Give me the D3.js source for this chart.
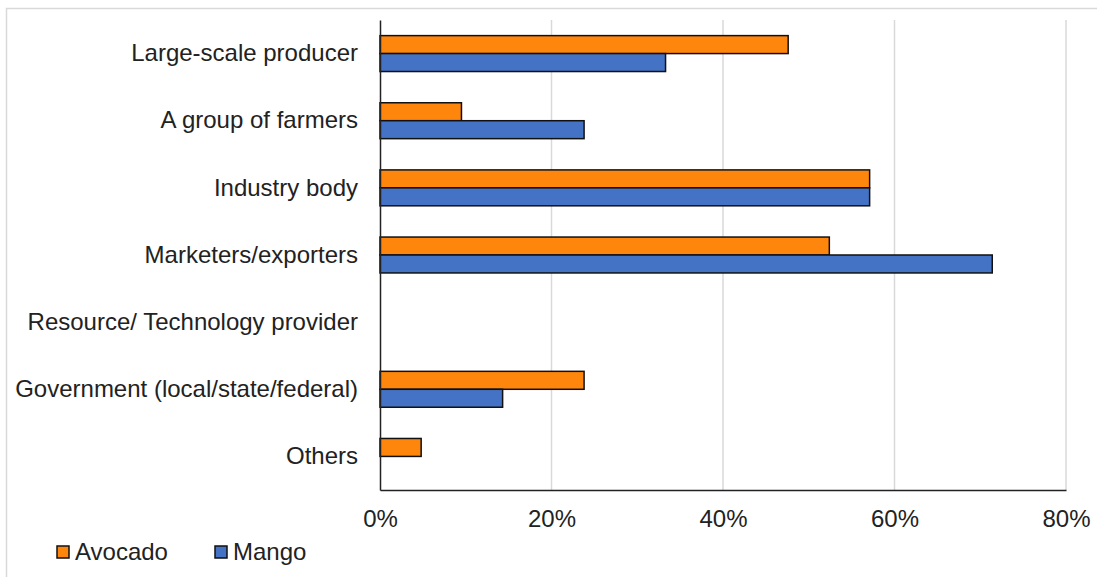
<!DOCTYPE html>
<html>
<head>
<meta charset="utf-8">
<script src="https://cdn.jsdelivr.net/npm/d3@7"></script>
<style>
    body { margin: 0; background: #fff; }
    svg { display: block; font-family: "Liberation Sans", Arial, sans-serif; }
</style>
</head>
<body>
<div id="chart"></div>
<script>
// Data
const categories = [
    'Large-scale producer',
    'A group of farmers',
    'Industry body',
    'Marketers/exporters',
    'Resource/ Technology provider',
    'Government (local/state/federal)',
    'Others'
];
const seriesNames = ['Avocado', 'Mango'];
const avocado = [47.6, 9.5, 57.1, 52.4, 0, 23.8, 4.8];
const mango = [33.3, 23.8, 57.1, 71.4, 0, 14.3, 0];
const xTicks = [0, 20, 40, 60, 80];
const colors = ['#ff860d', '#4472c4'];

const width = 1097;
const height = 577;
const margin = { top: 20, right: 31, bottom: 87, left: 380 };
const fontSize = 24;

const svg = d3.select('#chart').append('svg')
    .attr('width', width)
    .attr('height', height);

// outer chart frame (partly off-canvas like the reference)
svg.append('rect')
    .attr('x', 6.5).attr('y', 8.5)
    .attr('width', width + 20).attr('height', height + 20)
    .attr('fill', 'none')
    .attr('stroke', '#d9d9d9')
    .attr('stroke-width', 1.5);

const x = d3.scaleLinear()
    .domain([0, 80])
    .range([margin.left, width - margin.right]);

const y = d3.scaleBand()
    .domain(categories)
    .range([margin.top, height - margin.bottom]);

const ySub = d3.scaleBand()
    .domain(seriesNames)
    .range([0, y.bandwidth()])
    .paddingOuter(0.87);

// gridlines
svg.append('g')
    .selectAll('line')
    .data(xTicks.slice(1))
    .join('line')
    .attr('x1', d => x(d)).attr('x2', d => x(d))
    .attr('y1', margin.top).attr('y2', height - margin.bottom)
    .attr('stroke', '#d9d9d9')
    .attr('stroke-width', 1.5);

// bars
const rows = categories.map((c, i) => ({ cat: c, values: [avocado[i], mango[i]] }));

const groups = svg.append('g')
    .selectAll('g')
    .data(rows)
    .join('g')
    .attr('transform', d => `translate(0,${y(d.cat)})`);

groups.selectAll('rect')
    .data(d => d.values.map((v, j) => ({ name: seriesNames[j], v, j })).filter(e => e.v > 0))
    .join('rect')
    .attr('x', x(0))
    .attr('y', d => ySub(d.name))
    .attr('width', d => x(d.v) - x(0))
    .attr('height', ySub.bandwidth())
    .attr('fill', d => colors[d.j])
    .attr('stroke', '#111')
    .attr('stroke-width', 1.5);

// axes
const xAxis = svg.append('g')
    .attr('transform', `translate(0,${height - margin.bottom})`)
    .call(d3.axisBottom(x).tickValues(xTicks).tickSize(0).tickPadding(20)
        .tickFormat(d => d + '%'));
xAxis.select('.domain').attr('stroke', '#222').attr('stroke-width', 1.5);
xAxis.selectAll('text').attr('font-size', fontSize).attr('fill', '#222')
    .attr('font-family', '"Liberation Sans", Arial, sans-serif');

const yAxis = svg.append('g')
    .attr('transform', `translate(${margin.left},0)`)
    .call(d3.axisLeft(y).tickSize(0).tickPadding(22));
yAxis.select('.domain').attr('stroke', '#222').attr('stroke-width', 1.5);
yAxis.selectAll('text').attr('font-size', fontSize).attr('fill', '#222')
    .attr('font-family', '"Liberation Sans", Arial, sans-serif');

// legend
const legend = svg.append('g')
    .selectAll('g')
    .data(seriesNames)
    .join('g')
    .attr('transform', (d, i) => `translate(${57 + i * 158},546)`);

legend.append('rect')
    .attr('width', 12).attr('height', 12)
    .attr('fill', (d, i) => colors[i])
    .attr('stroke', '#111')
    .attr('stroke-width', 1.5);

legend.append('text')
    .attr('x', 18)
    .attr('y', 6)
    .attr('dy', '0.35em')
    .attr('font-size', fontSize)
    .attr('fill', '#222')
    .text(d => d);
</script>
</body>
</html>
